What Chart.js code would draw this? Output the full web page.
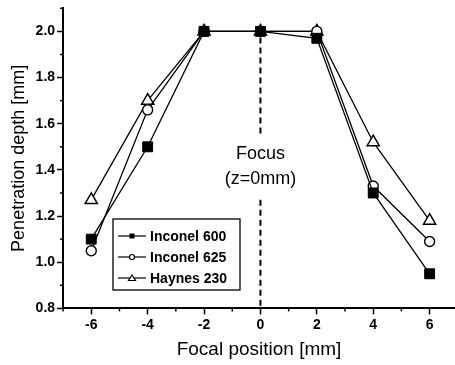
<!DOCTYPE html>
<html>
<head>
<meta charset="utf-8">
<script src="https://cdn.jsdelivr.net/npm/chart.js@4"></script>
<style>
  html, body { margin: 0; padding: 0; background: #fff; }
  #wrap { width: 455px; height: 365px; position: relative; }
</style>
</head>
<body>
<div id="wrap"><canvas id="chart"></canvas></div>
<script>
const positions = [-6, -4, -2, 0, 2, 4, 6];
const inconel600 = [1.10, 1.50, 2.00, 2.00, 1.97, 1.30, 0.95];
const inconel625 = [1.05, 1.66, 2.00, 2.00, 2.00, 1.33, 1.09];
const haynes230 = [1.27, 1.70, 2.00, 2.00, 2.00, 1.52, 1.18];
const xTicks = [-6, -4, -2, 0, 2, 4, 6];
const xMinor = [-7, -5, -3, -1, 1, 3, 5];
const yTicks = [0.8, 1.0, 1.2, 1.4, 1.6, 1.8, 2.0];
const yMinor = [0.9, 1.1, 1.3, 1.5, 1.7, 1.9, 2.1];

const font = 'Liberation Sans, Arial, sans-serif';

const toPoints = (vals) => positions.map((x, i) => ({ x: x, y: vals[i] }));

// minor ticks, focus line and text, boxed legend
const extras = {
    id: 'extras',
    afterDraw(chart) {
        const { ctx, scales: { x, y } } = chart;
        ctx.save();
        ctx.strokeStyle = '#000';
        ctx.lineWidth = 1.5;
        xMinor.forEach(v => {
            const px = x.getPixelForValue(v);
            if (px < x.left - 1) return;
            ctx.beginPath();
            ctx.moveTo(px, y.bottom);
            ctx.lineTo(px, y.bottom + 3);
            ctx.stroke();
        });
        yMinor.forEach(v => {
            const py = y.getPixelForValue(v);
            ctx.beginPath();
            ctx.moveTo(x.left, py);
            ctx.lineTo(x.left - 3, py);
            ctx.stroke();
        });

        // focus dashed line
        const fx = x.getPixelForValue(0);
        const ty = y.getPixelForValue(1.6);
        ctx.lineWidth = 2;
        ctx.setLineDash([6, 4]);
        ctx.beginPath();
        ctx.moveTo(fx, y.getPixelForValue(2.0) + 6);
        ctx.lineTo(fx, ty + 10);
        ctx.moveTo(fx, ty + 76);
        ctx.lineTo(fx, y.bottom);
        ctx.stroke();
        ctx.setLineDash([]);

        ctx.fillStyle = '#000';
        ctx.font = '18px ' + font;
        ctx.textAlign = 'center';
        ctx.textBaseline = 'middle';
        ctx.fillText('Focus', fx, ty + 30);
        ctx.fillText('(z=0mm)', fx, ty + 55);

        // legend
        const lx = 113, ly = 219, lw = 127, lh = 71;
        ctx.fillStyle = '#fff';
        ctx.fillRect(lx, ly, lw, lh);
        ctx.lineWidth = 1.3;
        ctx.strokeRect(lx, ly, lw, lh);
        ctx.font = 'bold 14px ' + font;
        ctx.textAlign = 'left';
        chart.data.datasets.forEach((ds, i) => {
            const cy = ly + 17 + i * 21;
            ctx.lineWidth = 1.2;
            ctx.strokeStyle = '#000';
            ctx.beginPath();
            ctx.moveTo(lx + 5, cy);
            ctx.lineTo(lx + 33, cy);
            ctx.stroke();
            const mx = lx + 19;
            ctx.beginPath();
            if (ds.pointStyle === 'rect') {
                ctx.fillStyle = '#000';
                ctx.fillRect(mx - 2.5, cy - 2.5, 5, 5);
            } else if (ds.pointStyle === 'circle') {
                ctx.fillStyle = '#fff';
                ctx.arc(mx, cy, 2.5, 0, Math.PI * 2);
                ctx.fill();
                ctx.stroke();
            } else {
                ctx.fillStyle = '#fff';
                ctx.moveTo(mx, cy - 3);
                ctx.lineTo(mx + 3.5, cy + 2.5);
                ctx.lineTo(mx - 3.5, cy + 2.5);
                ctx.closePath();
                ctx.fill();
                ctx.stroke();
            }
            ctx.fillStyle = '#000';
            ctx.fillText(ds.label, lx + 37, cy + 1);
        });
        ctx.restore();
    }
};

const chart = new Chart(document.getElementById('chart').getContext('2d'), {
    type: 'line',
    data: {
        datasets: [{
            label: 'Inconel 600',
            data: toPoints(inconel600),
            borderColor: '#000',
            backgroundColor: '#000',
            pointStyle: 'rect',
            pointRadius: 7,
            pointBorderWidth: 1,
        }, {
            label: 'Inconel 625',
            data: toPoints(inconel625),
            borderColor: '#000',
            backgroundColor: '#fff',
            pointStyle: 'circle',
            pointRadius: 5,
            pointBorderWidth: 1.4,
        }, {
            label: 'Haynes 230',
            data: toPoints(haynes230),
            borderColor: '#000',
            backgroundColor: '#fff',
            pointStyle: 'triangle',
            pointRadius: 7,
            pointBorderWidth: 1.5,
        }]
    },
    options: {
        responsive: true,
        maintainAspectRatio: false,
        animation: false,
        elements: {
            line: { borderWidth: 1.3, tension: 0 }
        },
        layout: { autoPadding: false, padding: { top: 8, right: 0, left: 4, bottom: 0 } },
        plugins: {
            legend: { display: false },
            tooltip: { enabled: false }
        },
        scales: {
            x: {
                type: 'linear',
                min: -7,
                max: 6.9,
                afterBuildTicks: (axis) => { axis.ticks = xTicks.map(v => ({ value: v })); },
                ticks: {
                    color: '#000',
                    font: { family: font, size: 14, weight: 'bold' },
                    padding: 2,
                    maxRotation: 0
                },
                grid: { drawOnChartArea: false, tickLength: 6, tickWidth: 1.5, tickColor: '#000' },
                border: { color: '#000', width: 2 },
                title: {
                    display: true,
                    text: 'Focal position [mm]',
                    color: '#000',
                    font: { family: font, size: 19 },
                    padding: { top: 3 }
                }
            },
            y: {
                min: 0.8,
                max: 2.1,
                afterBuildTicks: (axis) => { axis.ticks = yTicks.map(v => ({ value: v })); },
                ticks: {
                    color: '#000',
                    font: { family: font, size: 14, weight: 'bold', lineHeight: 0.9 },
                    padding: 2,
                    callback: (v) => v.toFixed(1)
                },
                grid: { drawOnChartArea: false, tickLength: 6, tickWidth: 1.5, tickColor: '#000' },
                border: { color: '#000', width: 2 },
                title: {
                    display: true,
                    text: 'Penetration depth [mm]',
                    color: '#000',
                    font: { family: font, size: 18 },
                    padding: { bottom: 4 }
                }
            }
        }
    },
    plugins: [extras]
});
</script>
</body>
</html>
